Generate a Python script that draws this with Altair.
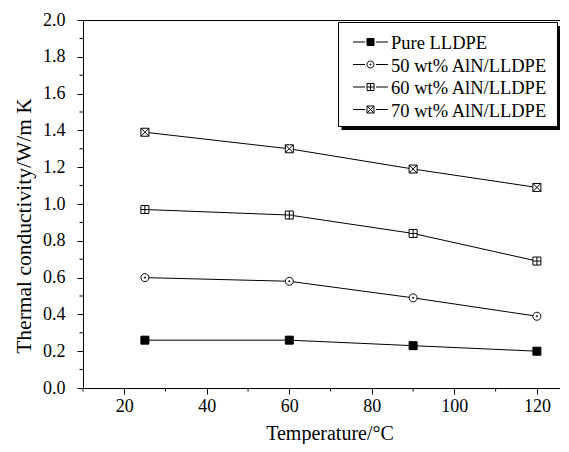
import altair as alt
import pandas as pd

temps = [25, 60, 90, 120]
series = ["Pure LLDPE", "50 wt% AlN/LLDPE", "60 wt% AlN/LLDPE", "70 wt% AlN/LLDPE"]
pure = [0.26, 0.26, 0.23, 0.20]
aln50 = [0.60, 0.58, 0.49, 0.39]
aln60 = [0.97, 0.94, 0.84, 0.69]
aln70 = [1.39, 1.30, 1.19, 1.09]

x_major = [20, 40, 60, 80, 100, 120]
x_minor = [10, 30, 50, 70, 90, 110]
y_major = [0.0, 0.2, 0.4, 0.6, 0.8, 1.0, 1.2, 1.4, 1.6, 1.8, 2.0]
y_minor = [0.1, 0.3, 0.5, 0.7, 0.9, 1.1, 1.3, 1.5, 1.7, 1.9]

rows = []
for name, vals in zip(series, [pure, aln50, aln60, aln70]):
    for t, v in zip(temps, vals):
        rows.append({"T": t, "k": v, "series": name})
df = pd.DataFrame(rows)
legend_df = pd.DataFrame({"series": series})
xminor_df = pd.DataFrame({"T": x_minor})
yminor_df = pd.DataFrame({"k": y_minor})
one = pd.DataFrame({"a": [0]})

FONT = "Liberation Serif"

sq = "M-1,-1H1V1H-1Z"
circ_dot = "M1,0A1,1,0,1,1,-1,0A1,1,0,1,1,1,0Z M0.18,0A0.18,0.18,0,1,1,-0.18,0A0.18,0.18,0,1,1,0.18,0Z"
sq_plus = sq + " M0,-1V1 M-1,0H1"
sq_x = sq + " M-1,-1L1,1 M-1,1L1,-1"
marker_paths = [sq, circ_dot, sq_plus, sq_x]
stubs = "M-5,0H-1.55 M1.55,0H5 "
legend_paths = [stubs + p for p in marker_paths]
fills = ["black", "white", "white", "white"]

xscale = alt.Scale(domain=[10, 125.6], nice=False, zero=False)
yscale = alt.Scale(domain=[0, 2.0], nice=False)
fill_scale = alt.Scale(domain=series, range=fills)

xaxis = alt.Axis(
    values=x_major,
    tickSize=6,
    grid=False,
    labelFlush=False,
    labelOverlap=False,
    labelPadding=3,
    labelFontSize=18,
    title="Temperature/°C",
    titleFontSize=20,
    titleBaseline="alphabetic",
    titleX=246.5,
    titleY=51,
)
yaxis = alt.Axis(
    values=y_major,
    format=".1f",
    tickSize=6,
    grid=False,
    labelFlush=False,
    labelOverlap=False,
    labelSeparation=0,
    labelPadding=12,
    labelFontSize=18,
    title="Thermal conductivity/W/m K",
    titleFontSize=21.5,
    titleBaseline="alphabetic",
    titleX=-52.5,
    titleY=205.5,
)

X = alt.X("T:Q", scale=xscale, axis=xaxis)
Y = alt.Y("k:Q", scale=yscale, axis=yaxis)

base = alt.Chart(df)

lines = base.mark_line(color="black", strokeWidth=1).encode(x=X, y=Y, detail="series:N")

points = base.mark_point(stroke="black", strokeWidth=1, opacity=1, size=64).encode(
    x=X,
    y=Y,
    shape=alt.Shape("series:N", scale=alt.Scale(domain=series, range=marker_paths), legend=None),
    fill=alt.Fill("series:N", scale=fill_scale, legend=None),
)

xminor = alt.Chart(xminor_df).mark_rule(color="black", strokeWidth=1).encode(
    x=X, y=alt.value(368), y2=alt.value(371.5)
)
yminor = alt.Chart(yminor_df).mark_rule(color="black", strokeWidth=1).encode(
    y=Y, x=alt.value(-3.5), x2=alt.value(0)
)

main = alt.layer(lines, xminor, yminor, points)

# legend (box with drop shadow, symbols and labels)
shadow = alt.Chart(one).mark_rect(color="black").encode(
    x=alt.value(258.5), x2=alt.value(477.5), y=alt.value(6), y2=alt.value(110)
)
box = alt.Chart(one).mark_rect(fill="white", stroke="black", strokeWidth=1).encode(
    x=alt.value(255.5), x2=alt.value(474.5), y=alt.value(2.5), y2=alt.value(106.5)
)
leg_y = alt.Y("series:N", scale=alt.Scale(domain=series, range=[22, 89.5], padding=0), axis=None)
leg_symbols = alt.Chart(legend_df).mark_point(stroke="black", strokeWidth=1, opacity=1, size=49).encode(
    x=alt.value(287.5),
    y=leg_y,
    shape=alt.Shape("series:N", scale=alt.Scale(domain=series, range=legend_paths), legend=None),
    fill=alt.Fill("series:N", scale=fill_scale, legend=None),
)
leg_text = alt.Chart(legend_df).mark_text(
    align="left", baseline="middle", font=FONT, fontSize=18.5, color="black", dy=1
).encode(x=alt.value(308), y=leg_y, text="series:N")

legend = alt.layer(shadow, box, leg_symbols, leg_text)

chart = alt.layer(main, legend).resolve_scale(
    y="independent", shape="independent"
).properties(
    width=477,
    height=368,
    autosize="none",
    padding={"left": 75, "top": 12, "right": 0, "bottom": 56},
).configure_view(
    stroke="black", strokeWidth=1
).configure_axis(
    domainColor="black",
    domainWidth=1,
    tickColor="black",
    tickWidth=1,
    labelFont=FONT,
    labelColor="black",
    titleFont=FONT,
    titleFontWeight="normal",
    titleColor="black",
)

chart.save("out.html", embed_options={"renderer": "svg", "actions": False})
